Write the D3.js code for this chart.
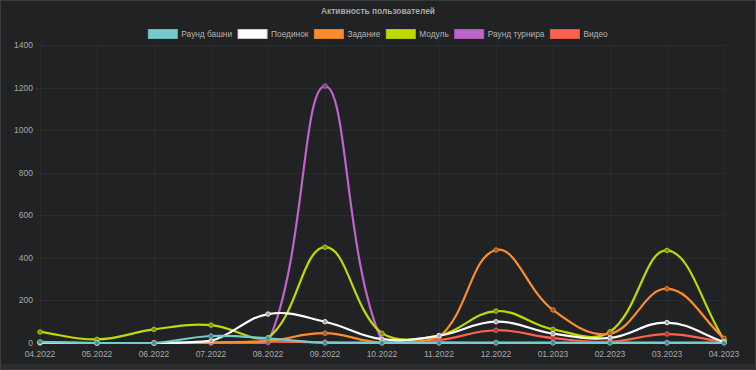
<!DOCTYPE html>
<html>
<head>
<meta charset="utf-8">
<script src="https://cdn.jsdelivr.net/npm/d3@7"></script>
<style>
  html, body { margin: 0; padding: 0; background: #212224; }
  svg { display: block; }
</style>
</head>
<body>
<div id="chart"></div>
<script>
var months = ['04.2022', '05.2022', '06.2022', '07.2022', '08.2022', '09.2022', '10.2022',
  '11.2022', '12.2022', '01.2023', '02.2023', '03.2023', '04.2023'];
var yTicks = [0, 200, 400, 600, 800, 1000, 1200, 1400];
var names = ['Раунд башни', 'Поединок', 'Задание', 'Модуль', 'Раунд турнира', 'Видео'];
var colors = ['#73cbce', '#ffffff', '#ff8c2c', '#c0da00', '#c063ca', '#ff624b'];
var tower   = [5, 0, 0, 33, 22, 0, 0, 0, 0, 0, 0, 0, 0];
var duel    = [3, 0, 0, 10, 136, 100, 18, 34, 100, 44, 24, 96, 5];
var task    = [0, 0, 0, 2, 10, 46, 2, 28, 437, 155, 44, 255, 22];
var modul   = [52, 17, 64, 84, 25, 450, 45, 35, 150, 64, 53, 435, 15];
var tourney = [0, 0, 0, 0, 2, 1207, 8, 4, 3, 3, 3, 3, 3];
var video   = [2, 0, 0, 3, 6, 4, 4, 14, 60, 23, 6, 42, 4];
var series = [tower, duel, task, modul, tourney, video];

var W = 756, H = 370,
  area = { left: 40, right: 724, top: 45, bottom: 343 };

var svg = d3.select('#chart').append('svg')
  .attr('width', W).attr('height', H)
  .style('font-family', 'Arial, "Liberation Sans", sans-serif');

svg.append('rect').attr('width', W).attr('height', H).attr('fill', '#212224');
svg.append('rect').attr('x', 0).attr('y', 364).attr('width', W).attr('height', 6).attr('fill', '#2b2c2e');
svg.append('rect').attr('x', 0.5).attr('y', 0.5).attr('width', W - 1).attr('height', H - 1)
  .attr('fill', 'none').attr('stroke', '#3a3b3e');

var x = d3.scalePoint().domain(months).range([area.left, area.right]);
var y = d3.scaleLinear().domain([0, 1400]).range([area.bottom, area.top]);

// grid
var grid = svg.append('g').attr('stroke', 'rgba(255,255,255,0.045)').attr('stroke-width', 1);
grid.selectAll('.v').data(months).enter().append('line')
  .attr('x1', function(d) { return Math.round(x(d)) + 0.5; })
  .attr('x2', function(d) { return Math.round(x(d)) + 0.5; })
  .attr('y1', area.top).attr('y2', area.bottom + 5);
grid.selectAll('.h').data(yTicks).enter().append('line')
  .attr('x1', area.left - 5).attr('x2', area.right)
  .attr('y1', function(d) { return Math.round(y(d)) + 0.5; })
  .attr('y2', function(d) { return Math.round(y(d)) + 0.5; });

// axis labels
svg.append('g').selectAll('text').data(yTicks).enter().append('text')
  .attr('x', 33).attr('y', function(d) { return y(d) + 3; })
  .attr('text-anchor', 'end').attr('font-size', '8.5px').attr('fill', '#a8a8a8')
  .text(function(d) { return d; });
svg.append('g').selectAll('text').data(months).enter().append('text')
  .attr('x', function(d) { return x(d); }).attr('y', 357)
  .attr('text-anchor', 'middle').attr('font-size', '8.5px').attr('fill', '#a8a8a8')
  .text(function(d) { return d; });

// title
svg.append('text').attr('x', W / 2).attr('y', 14).attr('text-anchor', 'middle')
  .attr('font-size', '8.4px').attr('font-weight', 'bold').attr('fill', '#a8a8a8')
  .text('Активность пользователей');

// legend
var legend = svg.append('g');
var items = legend.selectAll('g').data(names).enter().append('g');
items.append('rect').attr('width', 29).attr('height', 9).attr('y', 29.5)
  .attr('fill', function(d, i) { return colors[i]; })
  .attr('stroke', function(d, i) { return i === 1 ? '#cccccc' : d3.color(colors[i]).darker(0.3); })
  .attr('stroke-width', 1);
items.append('text').attr('x', 33).attr('y', 37).attr('font-size', '8.3px').attr('fill', '#b4b4b4')
  .text(function(d) { return d; });
var widths = [];
items.each(function() { widths.push(33 + this.querySelector('text').getComputedTextLength()); });
var gap = 6, total = d3.sum(widths) + gap * (widths.length - 1), cx = (W - total) / 2;
items.attr('transform', function(d, i) {
  var t = 'translate(' + cx + ',0)';
  cx += widths[i] + gap;
  return t;
});

// spline like chart.js (tension 0.4, capped to chart area)
function splinePath(pts, t) {
  var clampX = function(v) { return Math.max(area.left, Math.min(area.right, v)); };
  var clampY = function(v) { return Math.max(area.top, Math.min(area.bottom, v)); };
  var cps = pts.map(function(p, i) {
    var a = pts[Math.max(0, i - 1)], b = pts[Math.min(pts.length - 1, i + 1)];
    var d01 = Math.hypot(p[0] - a[0], p[1] - a[1]), d12 = Math.hypot(b[0] - p[0], b[1] - p[1]);
    var s01 = d01 / (d01 + d12) || 0, s12 = d12 / (d01 + d12) || 0;
    var fa = t * s01, fb = t * s12;
    return {
      prev: [clampX(p[0] - fa * (b[0] - a[0])), clampY(p[1] - fa * (b[1] - a[1]))],
      next: [clampX(p[0] + fb * (b[0] - a[0])), clampY(p[1] + fb * (b[1] - a[1]))]
    };
  });
  var path = d3.path();
  path.moveTo(pts[0][0], pts[0][1]);
  for (var i = 1; i < pts.length; i++) {
    path.bezierCurveTo(cps[i - 1].next[0], cps[i - 1].next[1], cps[i].prev[0], cps[i].prev[1], pts[i][0], pts[i][1]);
  }
  return path.toString();
}

var plot = svg.append('g');
d3.range(series.length).reverse().forEach(function(k) {
  var pts = series[k].map(function(v, i) { return [x(months[i]), y(v)]; });
  var g = plot.append('g');
  g.append('path').attr('d', splinePath(pts, 0.4))
    .attr('fill', 'none').attr('stroke', colors[k]).attr('stroke-width', 2.2);
  g.selectAll('circle').data(pts).enter().append('circle')
    .attr('cx', function(d) { return d[0]; }).attr('cy', function(d) { return d[1]; })
    .attr('r', 2.3)
    .attr('fill', d3.color(colors[k]).darker(1.2))
    .attr('stroke', colors[k]).attr('stroke-opacity', 0.8).attr('stroke-width', 1);
});
</script>
</body>
</html>
